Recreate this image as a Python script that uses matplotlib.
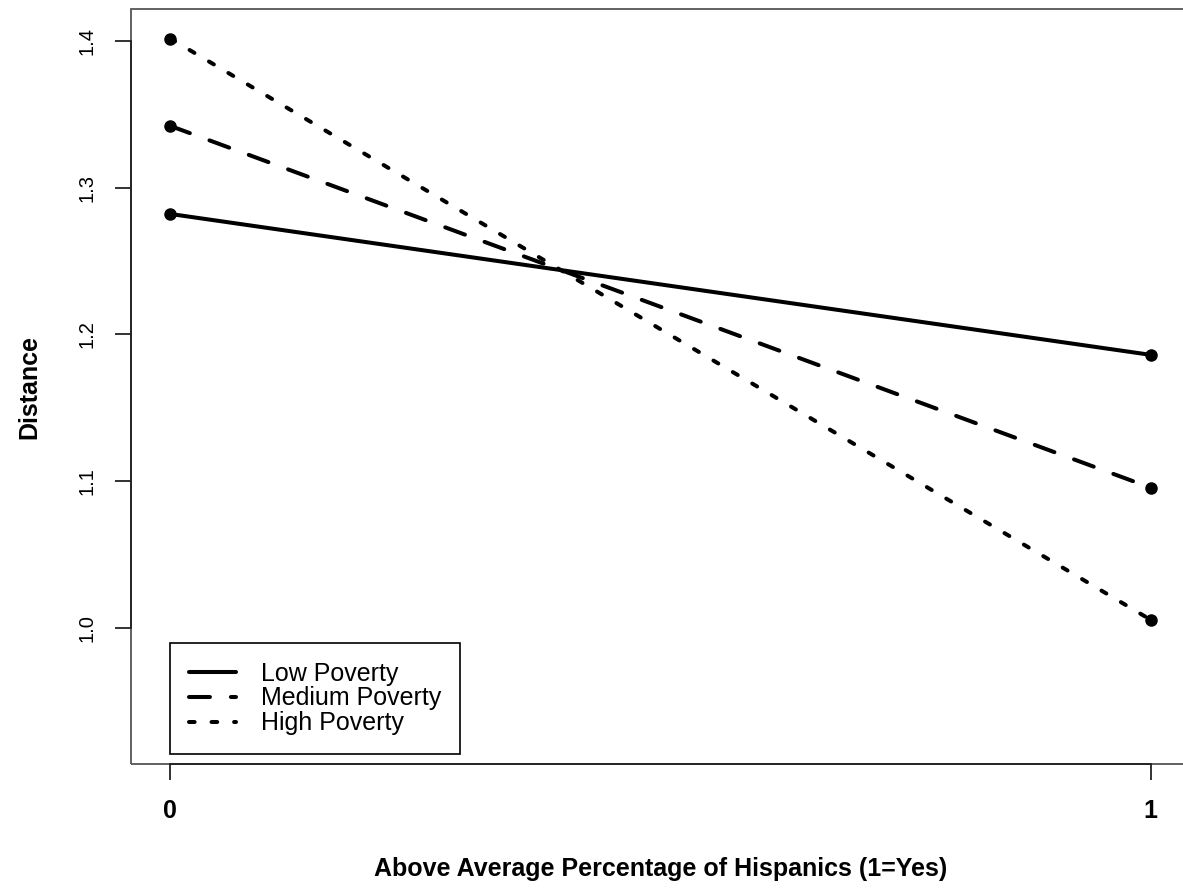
import matplotlib
matplotlib.use('Agg')
import matplotlib.pyplot as plt
from matplotlib.lines import Line2D
from matplotlib.patches import Rectangle

plt.rcParams['font.family'] = ['Liberation Sans', 'DejaVu Sans']

# data
x = [0, 1]
low = [1.282, 1.186]
medium = [1.342, 1.0955]
high = [1.4015, 1.0055]
series_names = ['Low Poverty', 'Medium Poverty', 'High Poverty']
x_ticks = [0, 1]
y_ticks = [1.0, 1.1, 1.2, 1.3, 1.4]

fig = plt.figure(figsize=(11.83, 8.92), dpi=100)
ax = fig.add_axes([0.1107, 0.1435, 0.8952, 0.8464])

lw = 2.9
styles = ['-', (0, (5.2, 5.2)), (0, (1.4, 4.2))]
for ys, st, name in zip([low, medium, high], styles, series_names):
    ax.plot(x, ys, color='black', lw=lw, ls=st, marker='o', ms=8,
            dash_capstyle='round', solid_capstyle='round', label=name)

ax.set_xlim(-0.04, 1.04)
ax.set_ylim(0.9073, 1.4216)

# R style box + axis lines
ax.add_patch(Rectangle((0, 0), 1, 1, transform=ax.transAxes, fill=False,
                       edgecolor='#555555', lw=1.3, clip_on=False, zorder=0))
for s in ['top', 'right']:
    ax.spines[s].set_visible(False)
ax.spines['left'].set_bounds(1.0, 1.4)
ax.spines['bottom'].set_bounds(0, 1)
for s in ['left', 'bottom']:
    ax.spines[s].set_color('#222222')
    ax.spines[s].set_linewidth(1.3)

ax.set_xticks(x_ticks)
ax.set_xticklabels([str(t) for t in x_ticks], fontsize=18, fontweight='bold')
ax.set_yticks(y_ticks)
ax.set_yticklabels(['%.1f' % t for t in y_ticks], fontsize=14.5, rotation=90, va='center')
ax.tick_params(axis='both', direction='out', length=11.5, width=1.3, color='#222222')
ax.tick_params(axis='x', pad=14)
ax.tick_params(axis='y', pad=13)

ax.set_xlabel('Above Average Percentage of Hispanics (1=Yes)', fontsize=18, fontweight='bold', labelpad=24)
ax.set_ylabel('Distance', fontsize=18, fontweight='bold', labelpad=26)

# legend without markers, like R's legend()
handles = [Line2D([], [], color='black', lw=lw, ls=st, dash_capstyle='round', solid_capstyle='round')
           for st in styles]
leg = ax.legend(handles, series_names, loc='lower left',
                bbox_to_anchor=(170 / 1183, (892 - 754) / 892), bbox_transform=fig.transFigure,
                borderaxespad=0, fancybox=False, edgecolor='black', framealpha=1,
                fontsize=18, handlelength=1.9, handletextpad=1.0, labelspacing=0.03,
                borderpad=0.75)
leg.get_frame().set_linewidth(1.2)

fig.savefig('out.png', dpi=100)
